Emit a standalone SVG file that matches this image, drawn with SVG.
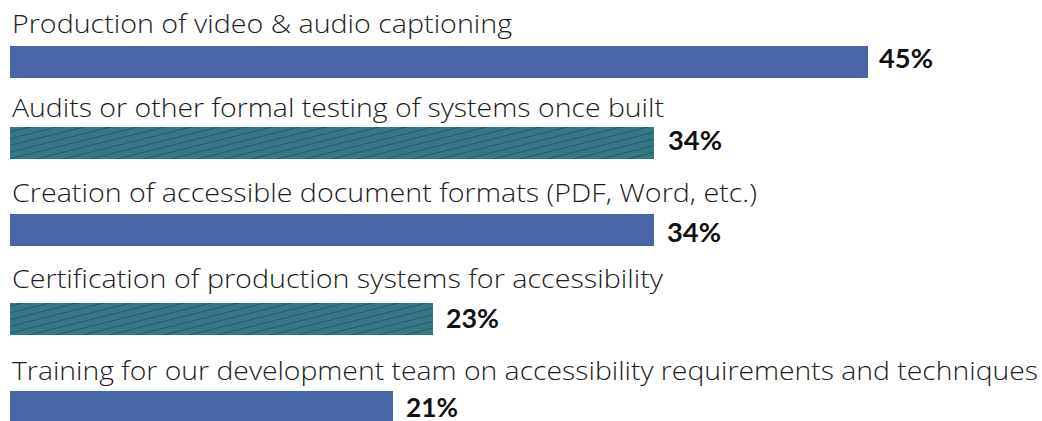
<svg xmlns="http://www.w3.org/2000/svg" width="1042" height="421" viewBox="0 0 1042 421">
<style>
.lbl{font-family:"Open Sans",Lato,"Liberation Sans",sans-serif;font-size:26px;font-weight:300;fill:#1c1c1c}
.pct{font-family:Lato,"Open Sans","Liberation Sans",sans-serif;font-size:27px;font-weight:bold;fill:#111}
.blue{fill:#4866a5}
</style>
<defs>
<pattern id="hatch" patternUnits="userSpaceOnUse" width="24" height="6.5" patternTransform="rotate(-14)">
<rect width="24" height="6.5" fill="#347786"/>
<line x1="0" y1="0.5" x2="24" y2="0.5" stroke="#245a66" stroke-width="1"/>
</pattern>
</defs>
<rect width="1042" height="421" fill="#fff"/>
<g id="bar1">
<text class="lbl" x="12" y="33" textLength="500" lengthAdjust="spacingAndGlyphs">Production of video &amp; audio captioning</text>
<rect class="blue" x="10" y="46" width="858" height="32"/>
<text class="pct" x="879" y="68" textLength="54" lengthAdjust="spacingAndGlyphs">45%</text>
</g>
<g id="bar2">
<text class="lbl" x="12" y="117" textLength="652" lengthAdjust="spacingAndGlyphs">Audits or other formal testing of systems once built</text>
<rect x="10" y="127" width="644" height="32" fill="url(#hatch)"/>
<text class="pct" x="668" y="150" textLength="54" lengthAdjust="spacingAndGlyphs">34%</text>
</g>
<g id="bar3">
<text class="lbl" x="12" y="202" textLength="745" lengthAdjust="spacingAndGlyphs">Creation of accessible document formats (PDF, Word, etc.)</text>
<rect class="blue" x="10" y="214" width="644" height="32"/>
<text class="pct" x="667" y="242" textLength="54" lengthAdjust="spacingAndGlyphs">34%</text>
</g>
<g id="bar4">
<text class="lbl" x="12" y="288" textLength="651" lengthAdjust="spacingAndGlyphs">Certification of production systems for accessibility</text>
<rect x="10" y="303" width="423" height="32" fill="url(#hatch)"/>
<text class="pct" x="446" y="328" textLength="53" lengthAdjust="spacingAndGlyphs">23%</text>
</g>
<g id="bar5">
<text class="lbl" x="12" y="380" textLength="1026" lengthAdjust="spacingAndGlyphs">Training for our development team on accessibility requirements and techniques</text>
<rect class="blue" x="10" y="391" width="383" height="32"/>
<text class="pct" x="406" y="417" textLength="52" lengthAdjust="spacingAndGlyphs">21%</text>
</g>
<g id="connectors"/>
</svg>
